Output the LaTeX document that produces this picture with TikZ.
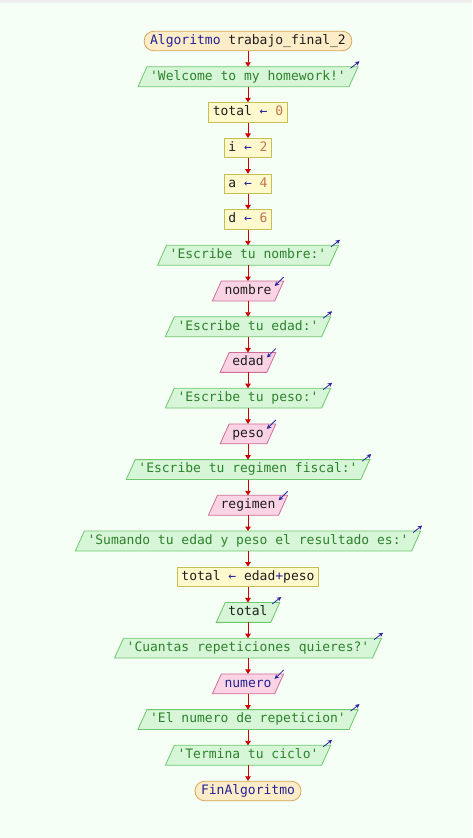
\documentclass[tikz,border=0pt]{standalone}
\usepackage{fontspec}
\setmonofont{DejaVu Sans Mono}
\usetikzlibrary{arrows.meta,backgrounds}
\definecolor{bg}{RGB}{245,255,245}
\definecolor{topgray}{RGB}{238,238,238}
\definecolor{kw}{RGB}{35,35,150}
\definecolor{num}{RGB}{195,115,75}
\definecolor{outtxt}{RGB}{45,130,45}
\definecolor{plain}{RGB}{30,30,30}
\definecolor{termfill}{RGB}{252,236,200}
\definecolor{termdraw}{RGB}{215,165,90}
\definecolor{outfill}{RGB}{215,245,215}
\definecolor{outdraw}{RGB}{110,200,110}
\definecolor{infill}{RGB}{250,212,228}
\definecolor{indraw}{RGB}{210,110,150}
\definecolor{asgfill}{RGB}{255,250,205}
\definecolor{asgdraw}{RGB}{200,190,80}
\definecolor{flowred}{RGB}{204,0,0}
\definecolor{iconblue}{RGB}{40,40,160}
\newcommand\kw[1]{\textcolor{kw}{#1}}
\newcommand\nm[1]{\textcolor{num}{#1}}
\newcommand\la{\textcolor{kw}{←}}
\tikzset{
  txt/.style={inner sep=0pt, text=plain, font=\fontsize{13}{15}\selectfont\ttfamily, text height=9.5pt, text depth=2.8pt},
  flow/.style={draw=flowred, line width=0.9pt, -{Triangle[length=4.5pt,width=5.5pt]}},
  term/.style={txt, draw=termdraw, fill=termfill, rounded corners=9.5pt, minimum height=19.5pt, inner xsep=6pt, line width=0.8pt},
  assign/.style={txt, draw=asgdraw, fill=asgfill, minimum height=19.5pt, inner xsep=4pt, line width=0.8pt},
  ptext/.style={txt, minimum height=19.5pt},
  ioarrow/.style={draw=iconblue, line width=0.8pt, -{Stealth[length=4.5pt,width=4.5pt]}}
}
\newcommand\outnode[3]{%
  \node[ptext, text=outtxt] (#1) at (248,{41+35.714*#2}) {#3};
  \begin{scope}[on background layer]
    \filldraw[fill=outfill,draw=outdraw,line width=0.8pt] ([xshift=-12pt]#1.south west) -- ([xshift=-3pt]#1.north west) -- ([xshift=12pt]#1.north east) -- ([xshift=3pt]#1.south east) -- cycle;
  \end{scope}
  \draw[ioarrow] ([xshift=4.5pt,yshift=-1.5pt]#1.north east) -- ([xshift=13.5pt,yshift=5.5pt]#1.north east);
}
\newcommand\innode[4]{%
  \node[ptext, text=#4] (#1) at (248,{41+35.714*#2}) {#3};
  \begin{scope}[on background layer]
    \filldraw[fill=infill,draw=indraw,line width=0.8pt] ([xshift=-12pt]#1.south west) -- ([xshift=-3pt]#1.north west) -- ([xshift=12pt]#1.north east) -- ([xshift=3pt]#1.south east) -- cycle;
  \end{scope}
  \draw[ioarrow] ([xshift=12pt,yshift=4pt]#1.north east) -- ([xshift=3pt,yshift=-5pt]#1.north east);
}
\begin{document}
\begin{tikzpicture}[x=1pt,y=-1pt]
\begin{scope}[on background layer]
  \fill[bg] (0,0) rectangle (472,838);
  \fill[topgray] (0,0) rectangle (472,3);
\end{scope}
\useasboundingbox (0,0) rectangle (472,838);
\node[term] (n0) at (248,41) {\kw{Algoritmo} trabajo\_final\_2};
\outnode{n1}{1}{'Welcome to my homework!'}
\node[assign] (n2) at (248,{41+35.714*2}) {total \la{} \nm{0}};
\node[assign] (n3) at (248,{41+35.714*3}) {i \la{} \nm{2}};
\node[assign] (n4) at (248,{41+35.714*4}) {a \la{} \nm{4}};
\node[assign] (n5) at (248,{41+35.714*5}) {d \la{} \nm{6}};
\outnode{n6}{6}{'Escribe tu nombre:'}
\innode{n7}{7}{nombre}{plain}
\outnode{n8}{8}{'Escribe tu edad:'}
\innode{n9}{9}{edad}{plain}
\outnode{n10}{10}{'Escribe tu peso:'}
\innode{n11}{11}{peso}{plain}
\outnode{n12}{12}{'Escribe tu regimen fiscal:'}
\innode{n13}{13}{regimen}{plain}
\outnode{n14}{14}{'Sumando tu edad y peso el resultado es:'}
\node[assign] (n15) at (248,{41+35.714*15}) {total \la{} edad\textcolor{kw}{+}peso};
\node[ptext] (n16) at (248,{41+35.714*16}) {total};
\begin{scope}[on background layer]
  \filldraw[fill=outfill,draw=outdraw,line width=0.8pt] ([xshift=-12pt]n16.south west) -- ([xshift=-3pt]n16.north west) -- ([xshift=12pt]n16.north east) -- ([xshift=3pt]n16.south east) -- cycle;
\end{scope}
\draw[ioarrow] ([xshift=4.5pt,yshift=-1.5pt]n16.north east) -- ([xshift=13.5pt,yshift=5.5pt]n16.north east);
\outnode{n17}{17}{'Cuantas repeticiones quieres?'}
\innode{n18}{18}{numero}{kw}
\outnode{n19}{19}{'El numero de repeticion'}
\outnode{n20}{20}{'Termina tu ciclo'}
\node[term] (n21) at (248,{41+35.714*21}) {\kw{FinAlgoritmo}};
\foreach \a/\b in {n0/n1,n1/n2,n2/n3,n3/n4,n4/n5,n5/n6,n6/n7,n7/n8,n8/n9,n9/n10,n10/n11,n11/n12,n12/n13,n13/n14,n14/n15,n15/n16,n16/n17,n17/n18,n18/n19,n19/n20,n20/n21}
  \draw[flow] (\a) -- (\b);
\end{tikzpicture}
\end{document}
